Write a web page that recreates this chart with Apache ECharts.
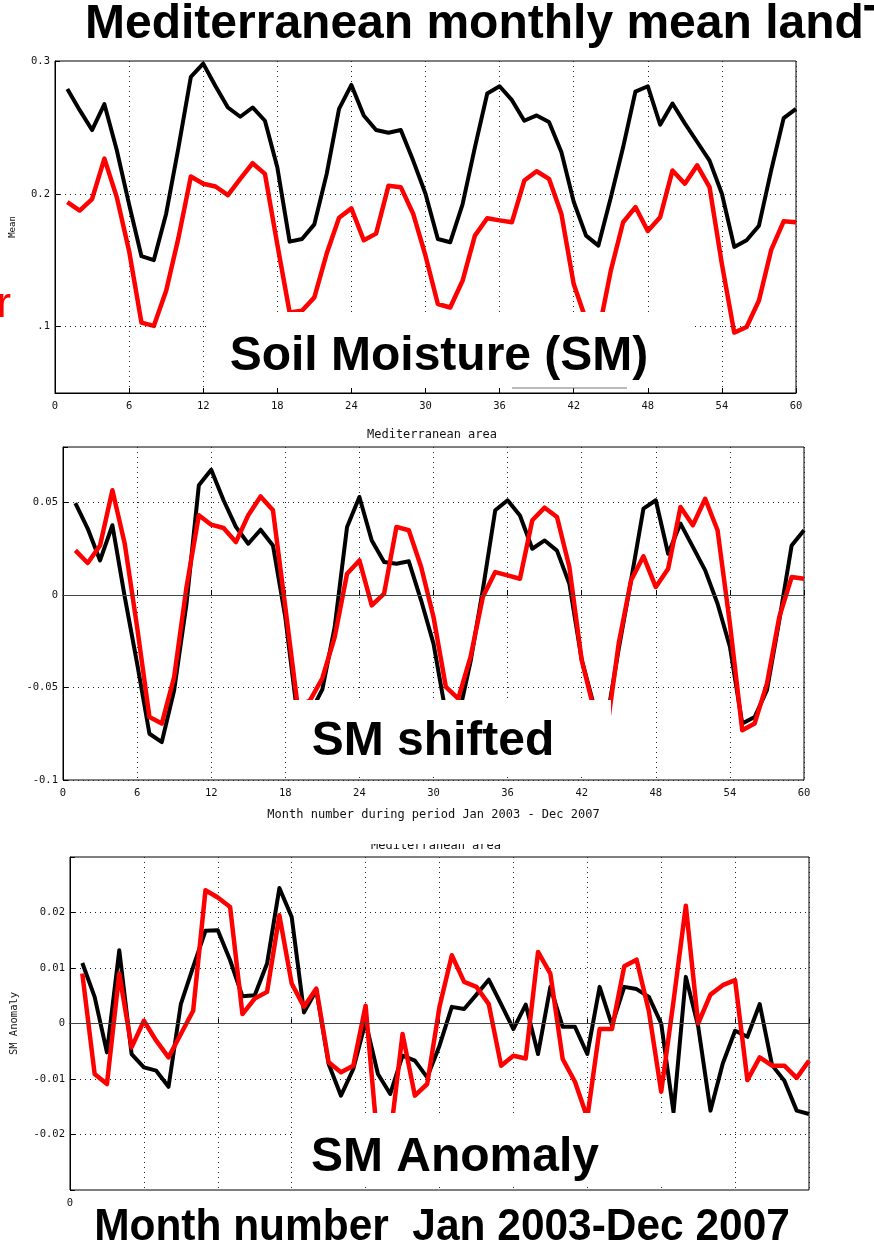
<!DOCTYPE html>
<html>
<head>
<meta charset="utf-8">
<script src="https://cdn.jsdelivr.net/npm/echarts@6/dist/echarts.min.js"></script>
<style>
  html, body { margin: 0; padding: 0; background: #fff; }
  #chart { width: 874px; height: 1253px; }
</style>
</head>
<body>
<div id="chart"></div>
<script>
// month number 1..60 (Jan 2003 - Dec 2007)
const months = Array.from({ length: 60 }, (_, i) => i + 1);

// panel 1: soil moisture mean
const smBlack = [0.279, 0.263, 0.248, 0.2675, 0.233, 0.192, 0.153, 0.150, 0.185, 0.235,
  0.288, 0.298, 0.281, 0.265, 0.258, 0.265, 0.255, 0.22, 0.164, 0.166,
  0.177, 0.215, 0.264, 0.282, 0.259, 0.248, 0.246, 0.248, 0.225, 0.2,
  0.166, 0.1635, 0.192, 0.235, 0.2755, 0.281, 0.2705, 0.255, 0.259, 0.254,
  0.2315, 0.194, 0.1685, 0.161, 0.197, 0.235, 0.277, 0.281, 0.252, 0.268,
  0.253, 0.239, 0.225, 0.2, 0.160, 0.165, 0.176, 0.218, 0.257, 0.264];
const smRed = [0.1937, 0.1874, 0.196, 0.2265, 0.1975, 0.157, 0.103, 0.1005, 0.127, 0.167,
  0.213, 0.2076, 0.2055, 0.199, 0.2113, 0.223, 0.215, 0.162, 0.1106, 0.112,
  0.122, 0.155, 0.182, 0.189, 0.165, 0.170, 0.206, 0.205, 0.185, 0.1534,
  0.117, 0.1144, 0.1345, 0.1685, 0.1816, 0.18, 0.1786, 0.21, 0.217, 0.2113,
  0.185, 0.132, 0.105, 0.095, 0.142, 0.1786, 0.190, 0.172, 0.1824, 0.2176,
  0.2076, 0.2214, 0.205, 0.147, 0.0955, 0.0997, 0.1196, 0.158, 0.1793, 0.1786];

// panel 2: SM shifted
const shiftBlack = [0.0497, 0.0359, 0.0187, 0.0377, -0.001, -0.037, -0.075, -0.0795, -0.0515, -0.0047,
  0.0593, 0.0677, 0.0512, 0.0368, 0.0277, 0.0353, 0.0268, -0.012, -0.066, -0.064,
  -0.051, -0.0173, 0.0368, 0.053, 0.0295, 0.0178, 0.0169, 0.0182, -0.003, -0.0263,
  -0.064, -0.0665, -0.036, 0.003, 0.0458, 0.0512, 0.043, 0.025, 0.0295, 0.024,
  0.006, -0.035, -0.06, -0.069, -0.029, 0.008, 0.0467, 0.0512, 0.0223, 0.0386,
  0.026, 0.0133, -0.0047, -0.028, -0.0695, -0.066, -0.0515, -0.0137, 0.0268, 0.035];
const shiftRed = [0.0241, 0.0173, 0.0268, 0.0566, 0.0277, -0.0173, -0.066, -0.0695, -0.0443, 0.0043,
  0.0431, 0.038, 0.0362, 0.0286, 0.0431, 0.0533, 0.0458, -0.0065, -0.06, -0.057,
  -0.045, -0.0227, 0.0115, 0.0187, -0.0056, 0.0007, 0.0368, 0.035, 0.0151, -0.0119,
  -0.0497, -0.056, -0.0335, -0.001, 0.0124, 0.0106, 0.0088, 0.0404, 0.0472, 0.0422,
  0.0151, -0.0353, -0.062, -0.075, -0.026, 0.008, 0.0209, 0.0043, 0.0142, 0.0476,
  0.0377, 0.052, 0.035, -0.0155, -0.0731, -0.0695, -0.0479, -0.0119, 0.0097, 0.0088];

// panel 3: SM anomaly
const anomBlack = [0.0109, 0.0048, -0.0052, 0.0132, -0.0055, -0.0079, -0.0085, -0.0114, 0.0035, 0.0102,
  0.0167, 0.0168, 0.0114, 0.0049, 0.0051, 0.0108, 0.0244, 0.0192, 0.002, 0.006,
  -0.0073, -0.013, -0.0082, 0.0003, -0.0091, -0.0127, -0.0058, -0.0067, -0.0097, -0.004,
  0.003, 0.0026, 0.0052, 0.0079, 0.0035, -0.001, 0.0034, -0.0055, 0.0066, -0.0006,
  -0.0006, -0.0055, 0.0066, -0.0003, 0.0066, 0.0062, 0.0048, 0.0, -0.016, 0.0084,
  -0.0005, -0.0157, -0.0072, -0.0013, -0.0024, 0.0035, -0.0075, -0.0103, -0.0157, -0.0163];
const anomRed = [0.009, -0.0091, -0.0109, 0.009, -0.0043, 0.0005, -0.0031, -0.0061, -0.0019, 0.0023,
  0.024, 0.0227, 0.021, 0.0017, 0.0045, 0.0057, 0.0195, 0.0072, 0.003, 0.0063,
  -0.007, -0.0088, -0.0076, 0.0032, -0.022, -0.0205, -0.0019, -0.013, -0.0109, 0.003,
  0.0123, 0.0075, 0.0066, 0.0035, -0.0076, -0.0058, -0.0063, 0.0129, 0.009, -0.0064,
  -0.0105, -0.017, -0.001, -0.001, 0.0103, 0.0115, 0.0022, -0.0123, 0.004, 0.0212,
  0.0, 0.0052, 0.0069, 0.0078, -0.0102, -0.0061, -0.0076, -0.0076, -0.0098, -0.0067];

// axis ticks / labels
const monthTicks = [0, 6, 12, 18, 24, 30, 36, 42, 48, 54, 60];
const smTicks = [0.1, 0.2, 0.3];
const smTickLabels = ['.1', '0.2', '0.3'];
const smGridValues = [0.1, 0.2];

const MONO = '"DejaVu Sans Mono", monospace';
const BOLD = '"Liberation Sans", Arial, sans-serif';

const pairs = (vals) => vals.map((v, i) => [months[i], v]);

const chart = echarts.init(document.getElementById('chart'), null, { renderer: 'canvas' });

const dotted = { color: '#222', width: 1, type: [1, 4] };

function xAxisFor(idx, showAll) {
  return {
    type: 'value',
    gridIndex: idx,
    min: monthTicks[0],
    max: monthTicks[monthTicks.length - 1],
    interval: 6,
    axisLine: { show: true, lineStyle: { color: '#000', width: 1 } },
    axisTick: { show: true, inside: true, length: 5, lineStyle: { color: '#000' } },
    axisLabel: {
      fontFamily: MONO, fontSize: 10.5, color: '#111', margin: 8,
      formatter: (v) => (showAll || v === 0 ? String(v) : '')
    },
    splitLine: { show: true, lineStyle: dotted }
  };
}

function lineSeries(name, color, data, idx, width) {
  return {
    name,
    type: 'line',
    xAxisIndex: idx,
    yAxisIndex: idx,
    data: pairs(data),
    symbol: 'none',
    z: color === '#000' ? 3 : 4,
    lineStyle: { color, width, join: 'round' },
    emphasis: { disabled: true }
  };
}

function refLines(idx, values, style) {
  return {
    type: 'line',
    xAxisIndex: idx,
    yAxisIndex: idx,
    data: [],
    z: 1,
    silent: true,
    markLine: {
      silent: true,
      symbol: ['none', 'none'],
      label: { show: false },
      lineStyle: style,
      emphasis: { disabled: true },
      data: values.map((v) => ({ yAxis: v }))
    }
  };
}

const option = {
  animation: false,
  backgroundColor: '#fff',
  grid: [
    { left: 55, top: 61, width: 741, height: 332, show: true, borderColor: '#000', borderWidth: 1 },
    { left: 63, top: 447, width: 741, height: 333, show: true, borderColor: '#000', borderWidth: 1 },
    { left: 70, top: 857, width: 739, height: 333, show: true, borderColor: '#000', borderWidth: 1 }
  ],
  xAxis: [
    xAxisFor(0, true),
    Object.assign(xAxisFor(1, true), {
      name: 'Month number during period Jan 2003 - Dec 2007',
      nameLocation: 'middle',
      nameGap: 29,
      nameTextStyle: { fontFamily: MONO, fontSize: 12, color: '#111' }
    }),
    xAxisFor(2, false)
  ],
  yAxis: [
    {
      type: 'value', gridIndex: 0, min: 0.05, max: 0.3,
      name: 'Mean', nameLocation: 'middle', nameGap: 38,
      nameTextStyle: { fontFamily: MONO, fontSize: 9, color: '#111' },
      axisLine: { show: true, lineStyle: { color: '#000' } },
      axisTick: { show: true, inside: true, length: 5, customValues: smTicks },
      axisLabel: {
        customValues: smTicks, fontFamily: MONO, fontSize: 10.5, color: '#111', margin: 5,
        formatter: (v) => smTickLabels[smTicks.findIndex((t) => Math.abs(t - v) < 1e-6)] || ''
      },
      splitLine: { show: false }
    },
    {
      type: 'value', gridIndex: 1, min: -0.1, max: 0.08, interval: 0.05,
      axisLine: { show: true, lineStyle: { color: '#000' } },
      axisTick: { show: true, inside: true, length: 5 },
      axisLabel: {
        fontFamily: MONO, fontSize: 10.5, color: '#111', margin: 5,
        formatter: (v) => (v > 0.06 ? '' : String(+v.toFixed(2)))
      },
      splitLine: { show: true, showMaxLine: false, lineStyle: dotted }
    },
    {
      type: 'value', gridIndex: 2, min: -0.03, max: 0.03, interval: 0.01,
      name: 'SM Anomaly', nameLocation: 'middle', nameGap: 50,
      nameTextStyle: { fontFamily: MONO, fontSize: 10.5, color: '#111' },
      axisLine: { show: true, lineStyle: { color: '#000' } },
      axisTick: { show: true, inside: true, length: 5 },
      axisLabel: {
        fontFamily: MONO, fontSize: 10.5, color: '#111', margin: 5,
        formatter: (v) => (Math.abs(v) > 0.025 ? '' : String(+v.toFixed(2)))
      },
      splitLine: { show: true, showMinLine: false, showMaxLine: false, lineStyle: dotted }
    }
  ],
  series: [
    refLines(0, smGridValues, dotted),
    lineSeries('SM', '#000', smBlack, 0, 4),
    lineSeries('SM', '#ff0000', smRed, 0, 4.5),
    refLines(1, [0], { color: '#444', width: 1, type: 'solid' }),
    lineSeries('SM shifted', '#000', shiftBlack, 1, 4),
    lineSeries('SM shifted', '#ff0000', shiftRed, 1, 4.5),
    refLines(2, [0], { color: '#444', width: 1, type: 'solid' }),
    lineSeries('SM anomaly', '#000', anomBlack, 2, 4),
    lineSeries('SM anomaly', '#ff0000', anomRed, 2, 4.5)
  ],
  graphic: [
    // big headline
    { type: 'text', x: 85, y: 25, z: 100,
      style: { text: 'Mediterranean monthly mean landT', font: 'bold 48px ' + BOLD, fill: '#000', textVerticalAlign: 'middle' } },
    { type: 'text', x: -3, y: 305, z: 100,
      style: { text: 'r', font: '42px ' + BOLD, fill: '#ff0000', textVerticalAlign: 'middle' } },
    // panel 1 label box
    { type: 'rect', z: 100, shape: { x: 207, y: 312, width: 486, height: 76 }, style: { fill: '#fff' } },
    { type: 'line', z: 101, shape: { x1: 512, y1: 388, x2: 627, y2: 388 }, style: { stroke: '#777', lineWidth: 1 } },
    { type: 'text', x: 439, y: 357, z: 102,
      style: { text: 'Soil Moisture (SM)', font: 'bold 48px ' + BOLD, fill: '#000', textAlign: 'center', textVerticalAlign: 'middle' } },
    // panel 2 title
    { type: 'text', x: 432, y: 435, z: 100,
      style: { text: 'Mediterranean area', font: '12px ' + MONO, fill: '#111', textAlign: 'center', textVerticalAlign: 'middle' } },
    { type: 'rect', z: 100, shape: { x: 293, y: 700, width: 318, height: 76 }, style: { fill: '#fff' } },
    { type: 'text', x: 433, y: 742, z: 102,
      style: { text: 'SM shifted', font: 'bold 48px ' + BOLD, fill: '#000', textAlign: 'center', textVerticalAlign: 'middle' } },
    // panel 3 title, top half hidden
    { type: 'text', x: 436, y: 846, z: 100,
      style: { text: 'Mediterranean area', font: '12px ' + MONO, fill: '#111', textAlign: 'center', textVerticalAlign: 'middle' } },
    { type: 'rect', z: 101, shape: { x: 340, y: 828, width: 200, height: 16 }, style: { fill: '#fff' } },
    { type: 'rect', z: 100, shape: { x: 293, y: 1113, width: 425, height: 74 }, style: { fill: '#fff' } },
    { type: 'text', x: 455, y: 1158, z: 102,
      style: { text: 'SM Anomaly', font: 'bold 48px ' + BOLD, fill: '#000', textAlign: 'center', textVerticalAlign: 'middle' } },
    // bottom caption (slightly condensed)
    { type: 'text', x: 442, y: 1228, z: 100, scaleX: 0.943,
      style: { text: 'Month number  Jan 2003-Dec 2007', font: 'bold 45px ' + BOLD, fill: '#000', textAlign: 'center', textVerticalAlign: 'middle' } }
  ]
};

chart.setOption(option);
</script>
</body>
</html>
